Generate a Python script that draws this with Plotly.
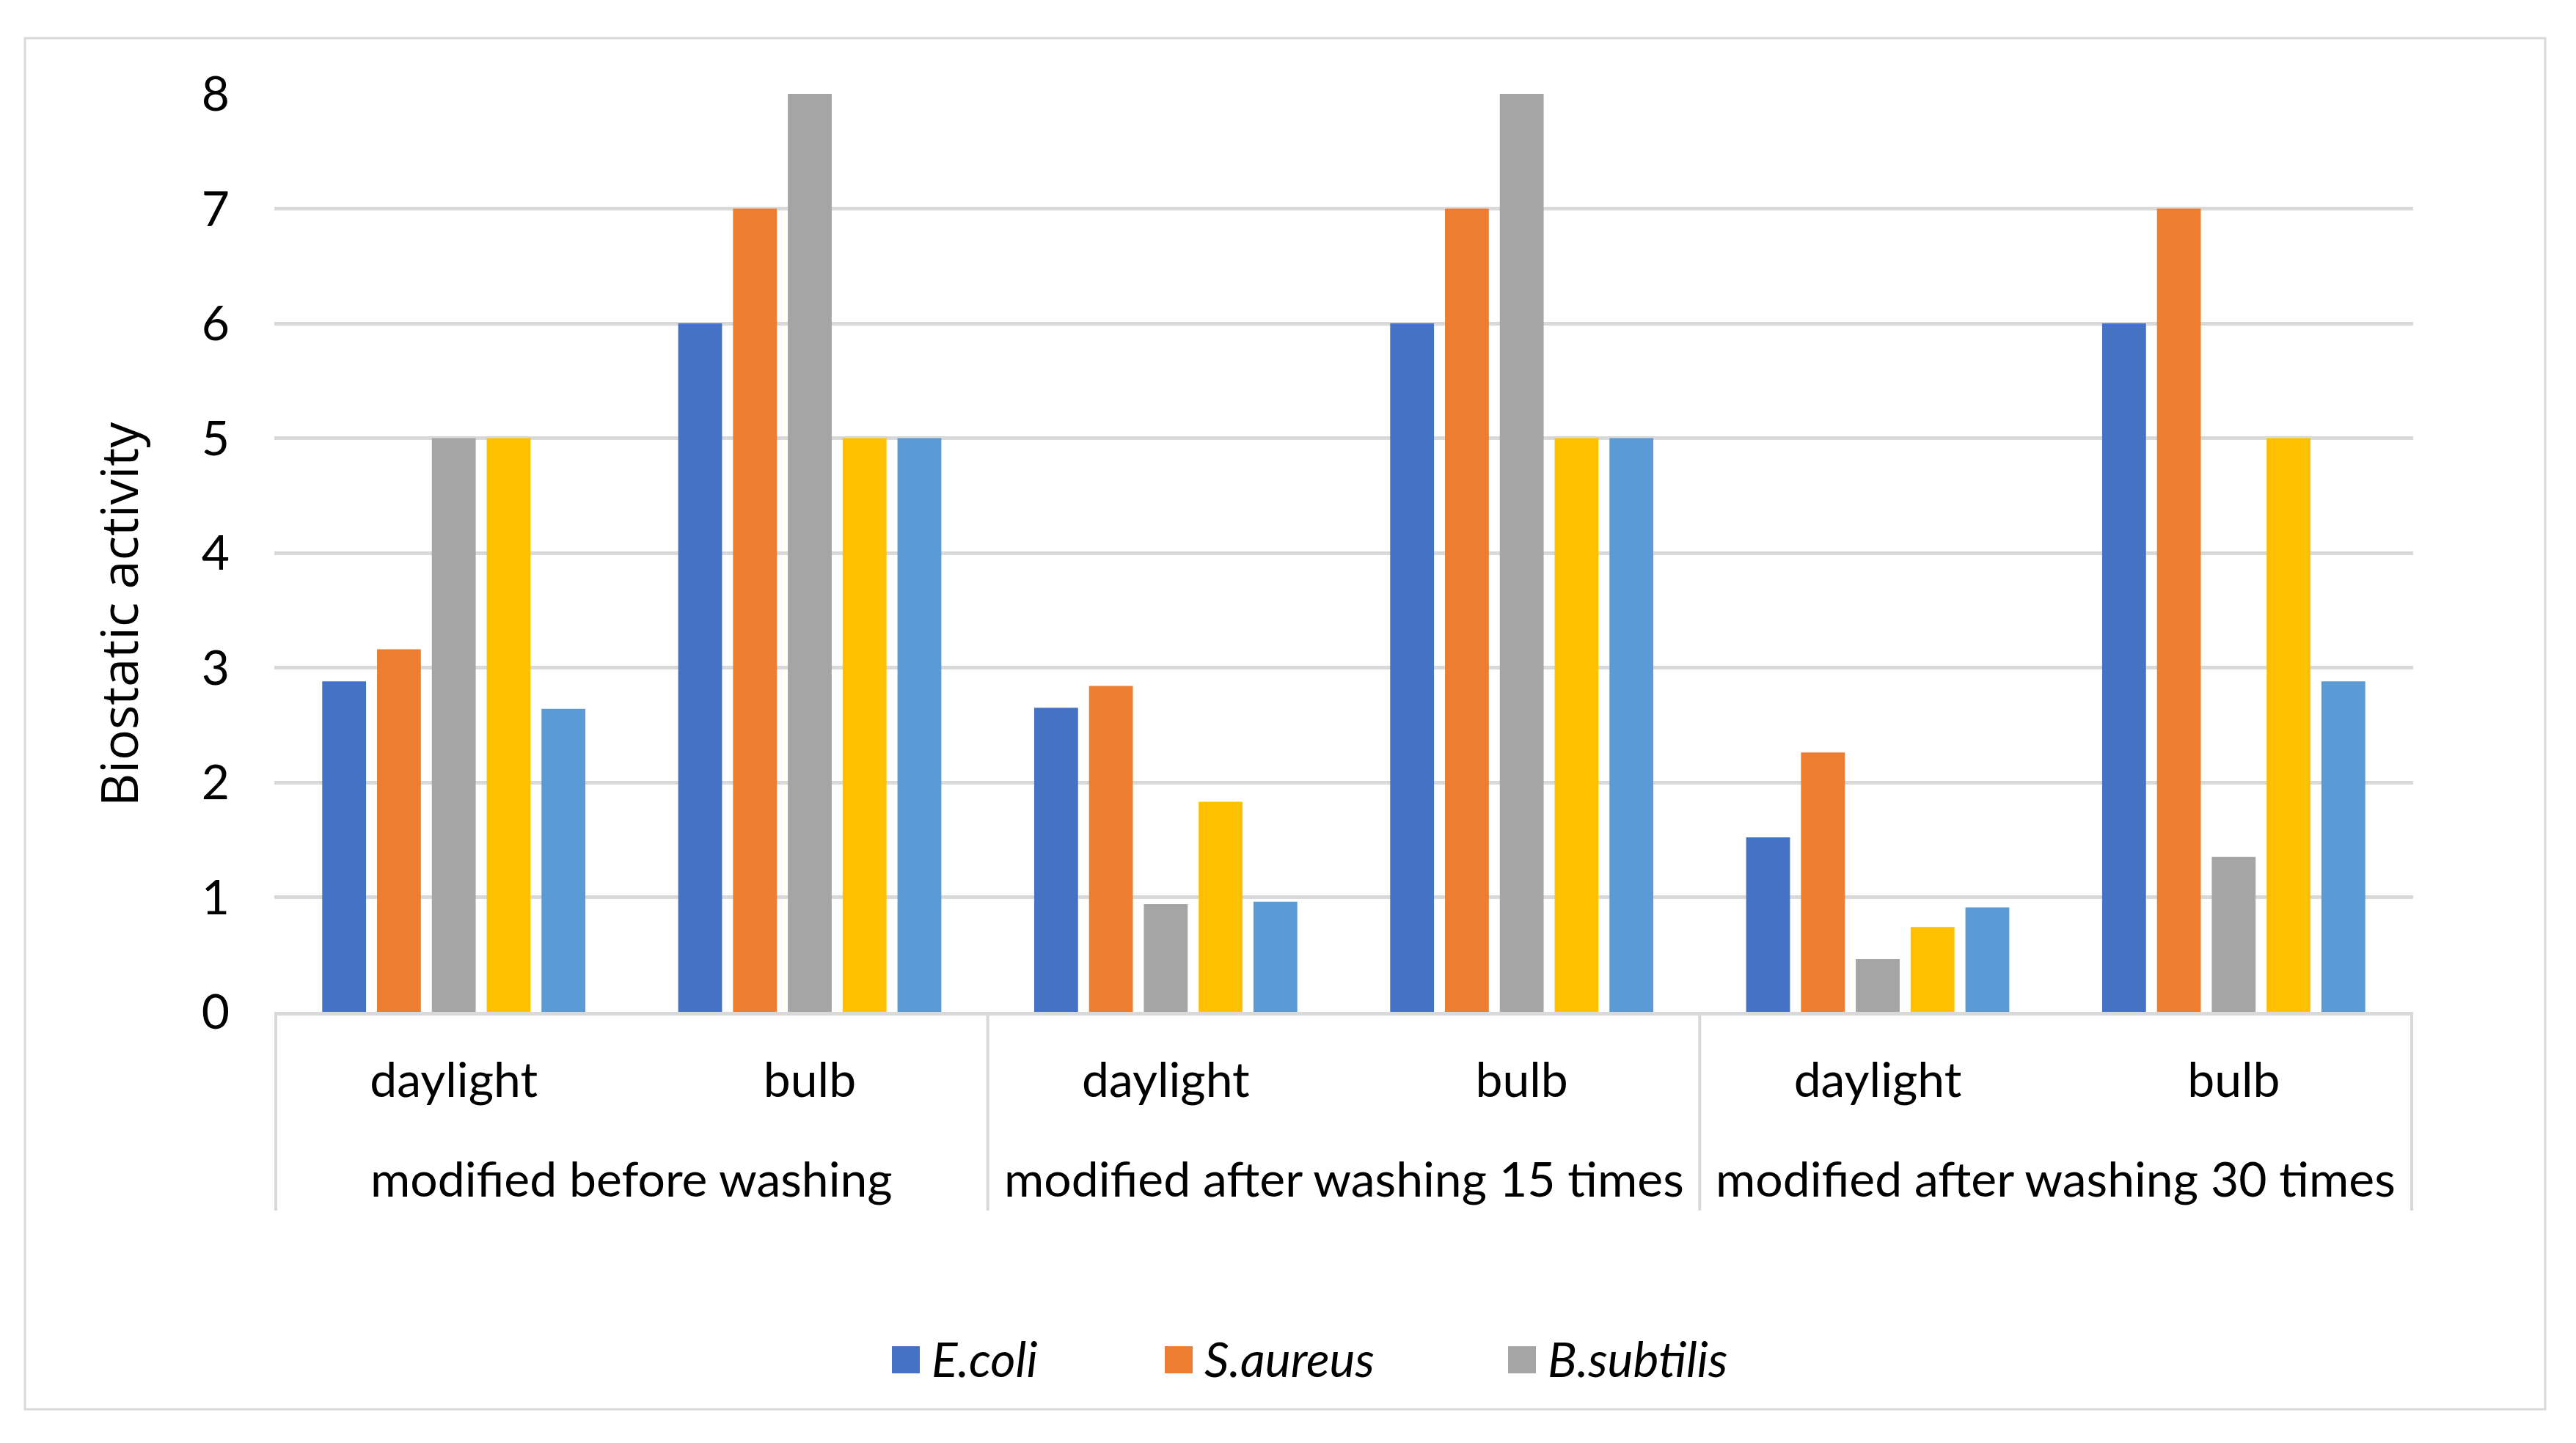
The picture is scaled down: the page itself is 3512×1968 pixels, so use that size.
import plotly.graph_objects as go

groups = ["modified before washing", "modified before washing",
          "modified after washing 15 times", "modified after washing 15 times",
          "modified after washing 30 times", "modified after washing 30 times"]
lights = ["daylight", "bulb", "daylight", "bulb", "daylight", "bulb"]
group_names = ["modified before washing", "modified after washing 15 times",
               "modified after washing 30 times"]

series_names = ["E.coli", "S.aureus", "B.subtilis", "Series4", "Series5"]
ecoli = [2.88, 6, 2.65, 6, 1.52, 6]
saureus = [3.16, 7, 2.84, 7, 2.26, 7]
bsubtilis = [5, 8, 0.94, 8, 0.46, 1.35]
series4 = [5, 5, 1.83, 5, 0.74, 5]
series5 = [2.64, 5, 0.96, 5, 0.91, 2.88]
series_values = [ecoli, saureus, bsubtilis, series4, series5]
colors = ["#4472C4", "#ED7D31", "#A5A5A5", "#FFC000", "#5B9BD5"]
legend_names = ["E.coli", "S.aureus", "B.subtilis"]

y_ticks = [0, 1, 2, 3, 4, 5, 6, 7, 8]

# unique category keys, shown with the sub-category text
cat_keys = [g + " | " + l for g, l in zip(groups, lights)]

W, H = 3512, 1968
OFF = 8  # page body margin
SL, ST, SR, SB = 374, 128, 3290, 1380  # plot area in screen pixels
L, T = SL - OFF, ST - OFF
R, B = W - (SR - OFF), H - (SB - OFF)
PW, PH = W - L - R, H - T - B

def px(x):
    return (x - SL) / PW

def py(y):
    return (SB - y) / PH

fig = go.Figure()
for name, vals, col in zip(series_names, series_values, colors):
    fig.add_trace(go.Bar(
        x=cat_keys, y=vals, name=name,
        marker=dict(color=col, line=dict(width=0)),
        showlegend=False,
    ))

FONT = "Lato, Calibri, sans-serif"
GRID = "#D9D9D9"

shapes = [dict(type="rect", xref="paper", yref="paper",
               x0=px(34), x1=px(3470), y0=py(1922), y1=py(52),
               line=dict(color=GRID, width=3), layer="below")]
annotations = []

# group dividers and group labels on the category scale
n_per_group = 2
n_groups = len(group_names)
for k in range(n_groups + 1):
    xv = k * n_per_group - 0.5
    shapes.append(dict(type="line", xref="x", yref="paper",
                       x0=xv, x1=xv, y0=0, y1=py(1651),
                       line=dict(color=GRID, width=4)))
for k, gname in enumerate(group_names):
    annotations.append(dict(xref="x", yref="paper",
                            x=k * n_per_group + (n_per_group - 1) / 2, y=py(1606),
                            xanchor="center", yanchor="middle", showarrow=False,
                            text=gname, font=dict(family=FONT, size=66, color="#000000")))

# y axis title
annotations.append(dict(xref="paper", yref="paper", x=px(161), y=py(838),
                        xanchor="center", yanchor="middle", showarrow=False,
                        textangle=-90, text="Biostatic activity",
                        font=dict(family="Open Sans, sans-serif", size=70, color="#000000")))

# legend
leg_x = [1216, 1588, 2056]
for name, col, lx in zip(legend_names, colors, leg_x):
    shapes.append(dict(type="rect", xref="paper", yref="paper",
                       x0=px(lx), x1=px(lx + 38), y0=py(1873), y1=py(1836),
                       fillcolor=col, line=dict(width=0)))
    annotations.append(dict(xref="paper", yref="paper", x=px(lx + 52), y=py(1852),
                            xanchor="left", yanchor="middle", showarrow=False,
                            text="<i>" + name + "</i>",
                            font=dict(family=FONT, size=66, color="#000000")))

fig.update_layout(
    width=W, height=H,
    margin=dict(l=L, r=R, t=T, b=B, autoexpand=False),
    paper_bgcolor="white", plot_bgcolor="white",
    barmode="group", bargap=0.23, bargroupgap=0.2,
    font=dict(family=FONT, size=66, color="#000000"),
    showlegend=False,
    shapes=shapes, annotations=annotations,
    xaxis=dict(
        type="category", categoryorder="array", categoryarray=cat_keys,
        tickvals=cat_keys, ticktext=lights,
        showline=True, linecolor=GRID, linewidth=5,
        showgrid=False, ticks="", ticklabelstandoff=32,
        tickfont=dict(family=FONT, size=66, color="#000000"),
    ),
    yaxis=dict(
        range=[0, 8], tickvals=y_ticks, ticktext=[str(v) for v in y_ticks],
        showgrid=True, gridcolor=GRID, gridwidth=5,
        zeroline=False, showline=False, ticks="",
        ticklabelstandoff=60,
        tickfont=dict(family=FONT, size=66, color="#000000"),
    ),
)

fig.write_html("out.html")
